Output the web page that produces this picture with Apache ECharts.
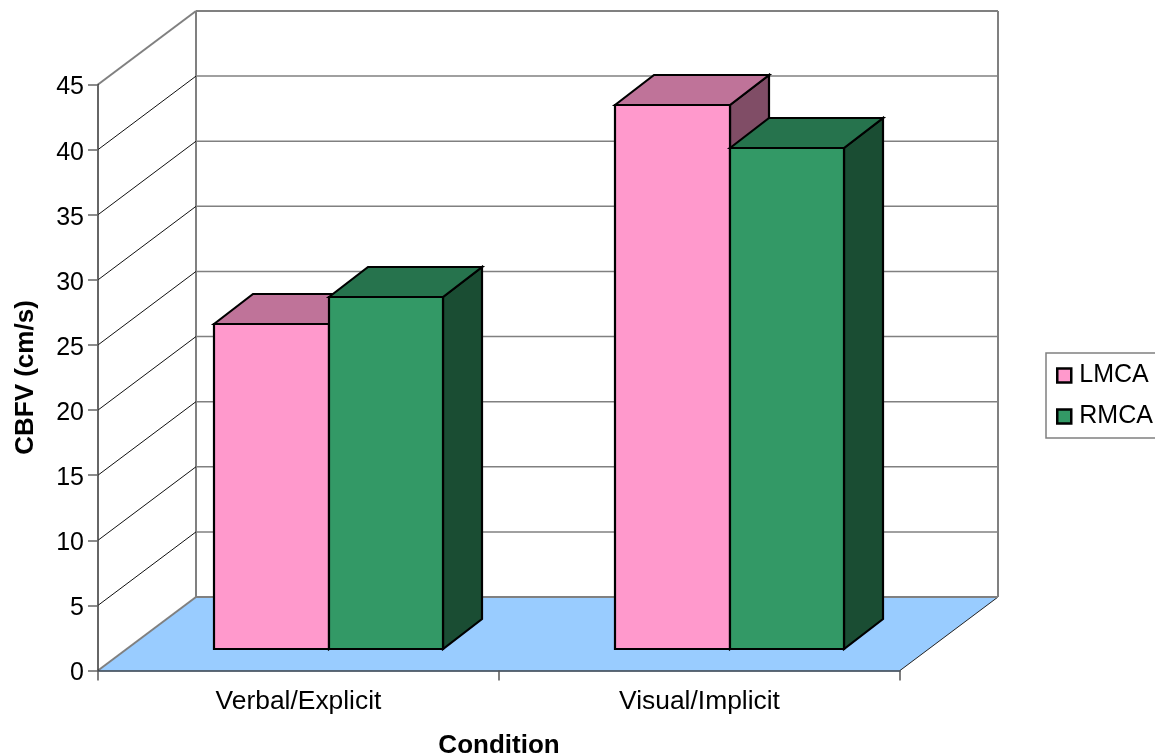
<!DOCTYPE html>
<html><head><meta charset="utf-8">
<style>html,body{margin:0;padding:0;background:#fff}#c{width:1155px;height:756px}</style>
<script src="https://cdn.jsdelivr.net/npm/echarts@6/dist/echarts.min.js"></script>
</head><body><div id="c"></div>
<script>
const categories = ['Verbal/Explicit', 'Visual/Implicit'];
const lmca = [24.9, 41.7];
const rmca = [27.0, 38.4];
const yTicks = [0, 5, 10, 15, 20, 25, 30, 35, 40, 45];

const FONT = '"Liberation Sans", Arial, sans-serif';
const WALL = [98, -73.5];      // depth of the 3D box, in px
const BAR_OFFSET = [30, -22];  // front face of bars, relative to the front plane
const BAR_DEPTH = [39, -30];
const BAR_FRAC = 114.5 / 401;
const GRAY = '#808080';

function P(a, b) { return [a[0] + b[0], a[1] + b[1]]; }

function wallItem(params, api) {
  const v = api.value(0);
  const band = api.size([1, 0])[0];
  const c0 = api.coord([0, v]);
  const c1 = api.coord([categories.length - 1, v]);
  const L = [c0[0] - band / 2, c0[1]];
  const R = [c1[0] + band / 2, c1[1]];
  const backL = P(L, WALL), backR = P(R, WALL);
  const children = [];
  const isEdge = v === yTicks[0] || v === yTicks[yTicks.length - 1];
  if (v === yTicks[0]) {
    children.push({ type: 'polygon', shape: { points: [L, R, backR, backL] },
      style: { fill: '#99ccff', stroke: null } });
    children.push({ type: 'line', shape: { x1: R[0], y1: R[1], x2: backR[0], y2: backR[1] },
      style: { stroke: '#222', lineWidth: 1, fill: null } });
    const topL = api.coord([0, yTicks[yTicks.length - 1]]);
    const topR = api.coord([categories.length - 1, yTicks[yTicks.length - 1]]);
    const tl = P([topL[0] - band / 2, topL[1]], WALL);
    const tr = P([topR[0] + band / 2, topR[1]], WALL);
    children.push({ type: 'line', shape: { x1: backL[0], y1: backL[1], x2: tl[0], y2: tl[1] },
      style: { stroke: GRAY, lineWidth: 2, fill: null } });
    children.push({ type: 'line', shape: { x1: backR[0], y1: backR[1], x2: tr[0], y2: tr[1] },
      style: { stroke: GRAY, lineWidth: 2, fill: null } });
  }
  children.push({ type: 'line', shape: { x1: backL[0], y1: backL[1], x2: backR[0], y2: backR[1] },
    style: { stroke: GRAY, lineWidth: isEdge ? 2 : 1.5, fill: null } });
  children.push({ type: 'line', shape: { x1: L[0], y1: L[1], x2: backL[0], y2: backL[1] },
    style: { stroke: isEdge ? GRAY : '#111', lineWidth: isEdge ? 2 : 1, fill: null } });
  return { type: 'group', children };
}

function barItem(side, front, top, flank) {
  return function (params, api) {
    const i = api.value(0), v = api.value(1);
    const band = api.size([1, 0])[0];
    const w = band * BAR_FRAC;
    const base = P(api.coord([i, 0]), BAR_OFFSET);
    const head = P(api.coord([i, v]), BAR_OFFSET);
    const x0 = Math.round(side < 0 ? base[0] - w : base[0]);
    const x1 = Math.round((side < 0 ? base[0] : base[0] + w));
    const yT = Math.round(head[1]), yB = Math.round(base[1]);
    const line = { stroke: '#000', lineWidth: 2.2, lineJoin: 'miter' };
    const fl = [x0, yT], fr = [x1, yT], br = [x1, yB];
    return { type: 'group', children: [
      { type: 'polygon', shape: { points: [fr, P(fr, BAR_DEPTH), P(br, BAR_DEPTH), br] },
        style: Object.assign({ fill: flank }, line) },
      { type: 'polygon', shape: { points: [fl, P(fl, BAR_DEPTH), P(fr, BAR_DEPTH), fr] },
        style: Object.assign({ fill: top }, line) },
      { type: 'rect', shape: { x: x0, y: yT, width: x1 - x0, height: yB - yT },
        style: Object.assign({ fill: front }, line) }
    ] };
  };
}

const chart = echarts.init(document.getElementById('c'), null, { renderer: 'canvas' });
chart.setOption({
  animation: false,
  backgroundColor: '#fff',
  grid: { left: 98, right: 255, top: 84.5, bottom: 85.5, containLabel: false, outerBoundsMode: 'none' },
  legend: {
    orient: 'vertical', left: 1046, top: 353, padding: [10, 20, 9, 10],
    itemWidth: 14, itemHeight: 14, itemGap: 16, icon: 'rect', itemAlign: 'left',
    backgroundColor: '#fff', borderColor: GRAY, borderWidth: 1.5,
    textStyle: { fontFamily: FONT, fontSize: 25, color: '#000', padding: [0, 0, 0, 3] },
    data: [
      { name: 'LMCA', itemStyle: { color: '#ff99cc', borderColor: '#000', borderWidth: 2.5 } },
      { name: 'RMCA', itemStyle: { color: '#339966', borderColor: '#000', borderWidth: 2.5 } }
    ]
  },
  xAxis: {
    type: 'category', data: categories, z: 5,
    axisLine: { show: true, onZero: false, lineStyle: { color: '#2b3a4a', width: 1.5 } },
    axisTick: { show: true, length: 10, lineStyle: { color: '#555', width: 1.5 } },
    axisLabel: { fontFamily: FONT, fontSize: 26.4, color: '#000', margin: 18 },
    name: 'Condition', nameLocation: 'middle', nameGap: 62,
    nameTextStyle: { fontFamily: FONT, fontSize: 26, fontWeight: 'bold', color: '#000' }
  },
  yAxis: {
    type: 'value', min: 0, max: 45, interval: 5, z: 5,
    axisLine: { show: true, lineStyle: { color: '#333', width: 1.5 } },
    axisTick: { show: true, length: 10, lineStyle: { color: '#666', width: 1.5 } },
    splitLine: { show: false },
    axisLabel: {
      fontFamily: FONT, fontSize: 25, color: '#000', margin: 14,
      formatter: '{t|{value}}',
      rich: { t: { fontFamily: FONT, fontSize: 25, color: '#000', padding: [6, 0, 0, 0] } }
    },
    name: 'CBFV (cm/s)', nameLocation: 'middle', nameGap: 59, nameRotate: 90,
    nameTextStyle: { fontFamily: FONT, fontSize: 26, fontWeight: 'bold', color: '#000' }
  },
  series: [
    { type: 'custom', name: 'wall', silent: true, z: 1, coordinateSystem: 'cartesian2d', clip: false,
      renderItem: wallItem, encode: { y: 0 }, data: yTicks.map(v => [v]) },
    { type: 'custom', name: 'LMCA', z: 2, clip: false, renderItem: barItem(-1, '#ff99cc', '#bf7399', '#804d66'),
      itemStyle: { color: '#ff99cc' }, encode: { x: 0, y: 1 }, data: lmca.map((v, i) => [i, v]) },
    { type: 'custom', name: 'RMCA', z: 3, clip: false, renderItem: barItem(1, '#339966', '#26734d', '#1a4d33'),
      itemStyle: { color: '#339966' }, encode: { x: 0, y: 1 }, data: rmca.map((v, i) => [i, v]) }
  ]
});
</script></body></html>
